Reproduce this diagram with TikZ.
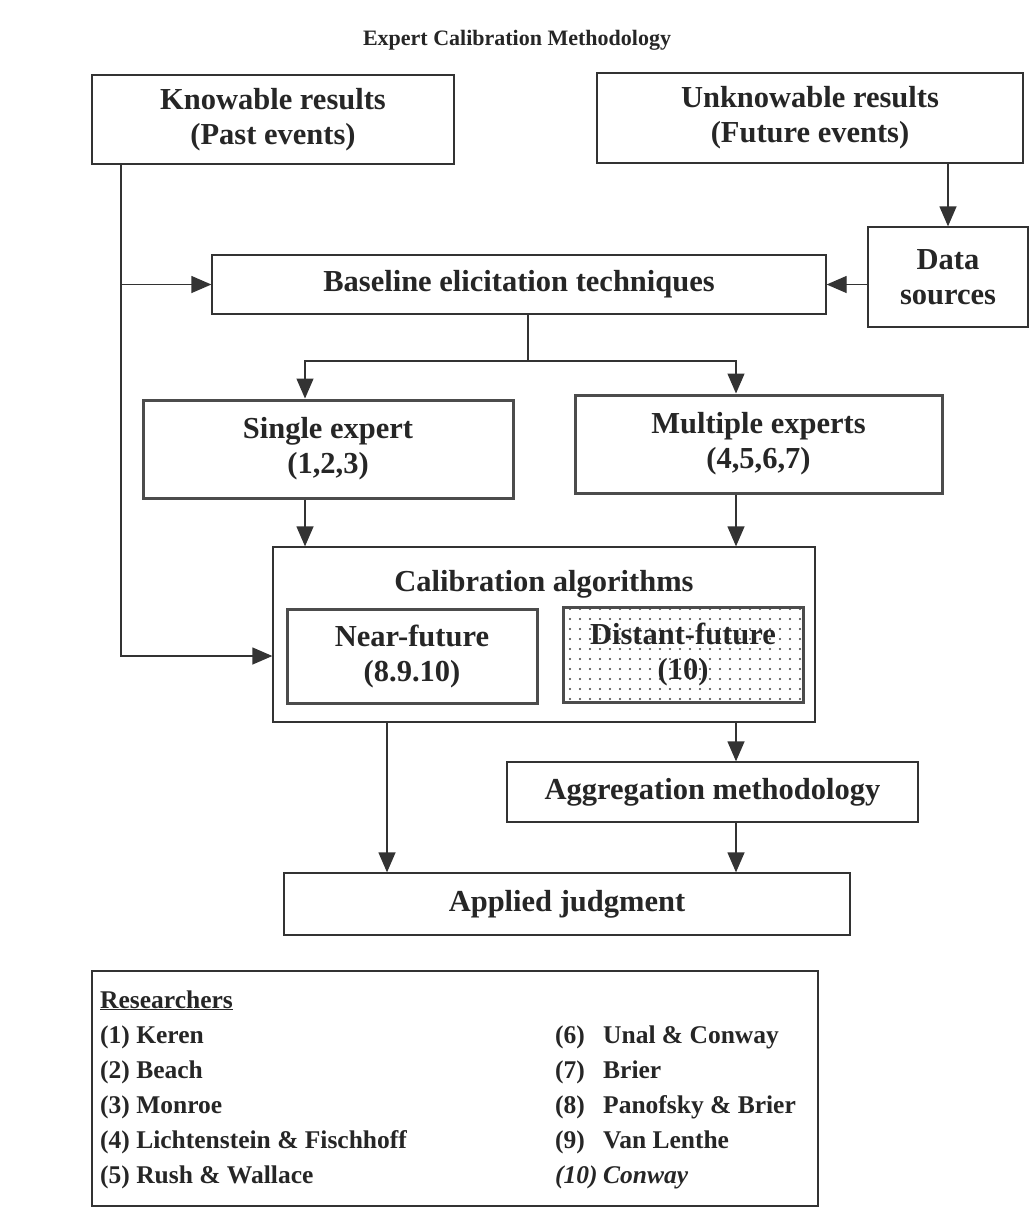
\documentclass[tikz,border=0pt]{standalone}
\usepackage{fontspec}
\setmainfont{Liberation Serif}
\usetikzlibrary{arrows.meta,calc,patterns.meta}
\begin{document}
\begin{tikzpicture}[x=1pt,y=-1pt,
  txt/.style={font=\fontsize{30.5}{35}\selectfont\bfseries, text=black!85, align=center},
  box/.style={draw=black!80, line width=1.3pt, inner sep=0pt, txt},
  tbox/.style={draw=black!70, line width=3pt, inner sep=0pt, txt},
  conn/.style={draw=black!80, line width=1.3pt},
  arr/.style={conn, -{Triangle[length=20pt,width=17pt]}},
  lst/.style={font=\fontsize{25.5}{30}\selectfont\bfseries, text=black!85, inner sep=0pt, anchor=base west},
]
\useasboundingbox (0,0) rectangle (1035,1219);
\fill[white] (0,0) rectangle (1035,1219);

\node[txt, font=\fontsize{22}{26}\selectfont\bfseries] (title) at (517,40) {Expert Calibration Methodology};

\node[box, minimum width=362pt, minimum height=89pt] (know) at (273,119.5) {Knowable results\\(Past events)};
\node[box, minimum width=426pt, minimum height=90pt] (unknow) at (810,118) {Unknowable results\\(Future events)};
\node[box, minimum width=160pt, minimum height=100pt] (data) at (948,277) {Data\\sources};
\node[box, minimum width=614pt, minimum height=59pt] (base) at (519,284.5) {Baseline elicitation techniques};
\node[tbox, minimum width=370pt, minimum height=98pt] (single) at (328,449) {Single expert\\(1,2,3)};
\node[tbox, minimum width=367pt, minimum height=98pt] (multi) at (758.5,444) {Multiple experts\\(4,5,6,7)};
\node[box, minimum width=542pt, minimum height=175pt] (calib) at (544,634.5) {};
\node[txt, inner sep=0pt] (calibt) at ($(calib.north)+(0,38)$) {Calibration algorithms};
\node[tbox, minimum width=250pt, minimum height=94pt] (near) at (412,656) {Near-future\\(8.9.10)};
\node[tbox, minimum width=240pt, minimum height=95pt, pattern={Dots[distance=10pt,radius=1.1pt]}, pattern color=black!75] (dist) at (683,654.5) {Distant-future\\(10)};
\node[box, minimum width=411pt, minimum height=60pt] (aggr) at (712.5,792) {Aggregation methodology};
\node[box, minimum width=566pt, minimum height=62pt] (appl) at (567,904) {Applied judgment};
\node[draw=black!80, line width=1.3pt, minimum width=726pt, minimum height=235pt, inner sep=0pt] (legend) at (455,1088.5) {};

\node[lst] (rh) at (100,1008) {\underline{Researchers}};
\node[lst] (r1) at (100,1043) {(1) Keren};
\node[lst] (r2) at (100,1078) {(2) Beach};
\node[lst] (r3) at (100,1113) {(3) Monroe};
\node[lst] (r4) at (100,1148) {(4) Lichtenstein \& Fischhoff};
\node[lst] (r5) at (100,1183) {(5) Rush \& Wallace};
\node[lst] (r6) at (555,1043) {\makebox[48pt][l]{(6)}Unal \& Conway};
\node[lst] (r7) at (555,1078) {\makebox[48pt][l]{(7)}Brier};
\node[lst] (r8) at (555,1113) {\makebox[48pt][l]{(8)}Panofsky \& Brier};
\node[lst] (r9) at (555,1148) {\makebox[48pt][l]{(9)}Van Lenthe};
\node[lst] (r10) at (555,1183) {\itshape\makebox[48pt][l]{(10)}Conway};

\coordinate (lx) at (121,0);
\coordinate (sx) at (305,0);
\coordinate (mx) at (736,0);
\coordinate (ax) at (387,0);
\coordinate (split) at (528,361);

\draw[arr] (know.south -| lx) |- (calib.west |- near.west);
\draw[arr] (lx |- base.west) -- (base.west);
\draw[arr] (unknow.south -| data.north) -- (data.north);
\draw[arr] (data.west |- base.east) -- (base.east);
\draw[conn] (base.south -| split) -- (split);
\draw[arr] (split) -| (single.north -| sx);
\draw[arr] (split) -| (multi.north -| mx);
\draw[arr] (single.south -| sx) -- (calib.north -| sx);
\draw[arr] (multi.south -| mx) -- (calib.north -| mx);
\draw[arr] (calib.south -| ax) -- (appl.north -| ax);
\draw[arr] (calib.south -| mx) -- (aggr.north -| mx);
\draw[arr] (aggr.south -| mx) -- (appl.north -| mx);
\end{tikzpicture}
\end{document}
